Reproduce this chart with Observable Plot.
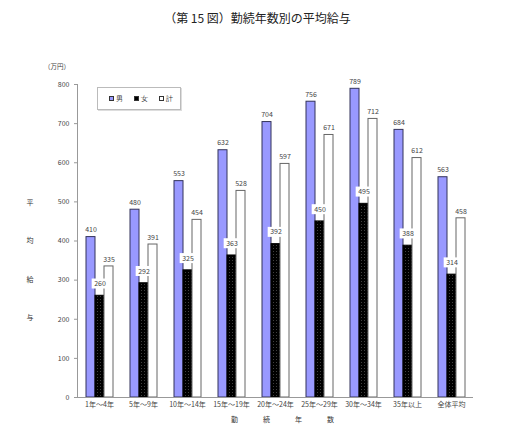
<!DOCTYPE html>
<html><head><meta charset="utf-8">
<script src="https://cdn.jsdelivr.net/npm/d3@7"></script>
<script src="https://cdn.jsdelivr.net/npm/@observablehq/plot@0.6"></script>
<style>
body{margin:0;background:#fff;font-family:"Noto Sans CJK JP",sans-serif;}
#wrap{position:relative;width:515px;height:441px;overflow:hidden;}
#title{position:absolute;top:9px;left:0;width:515px;text-align:center;font-size:12px;color:#222;}
#chart{position:absolute;top:34px;left:0;}
#unit{position:absolute;left:44px;top:61px;font-size:6.5px;color:#444;}
#ylab{position:absolute;left:26px;top:199px;font-size:7px;color:#333;writing-mode:vertical-rl;letter-spacing:31.3px;line-height:8px;}
#xlab{position:absolute;left:231px;top:415px;font-size:7px;color:#333;letter-spacing:25px;line-height:8px;white-space:nowrap;}
#legend{position:absolute;left:97px;top:87px;width:84px;height:23px;border:1px solid #bbb;box-shadow:1px 1px 0 #ddd;background:#fff;box-sizing:border-box;padding-left:11px;display:flex;align-items:center;overflow:hidden;}
#legend > div{font-size:7px !important;color:#333;margin:0 !important;min-height:0 !important;flex-wrap:nowrap !important;}
#legend [class$="-swatch"]{margin-right:11px !important;white-space:nowrap;}
#legend svg{outline:1px solid #333;outline-offset:-1px;margin-right:2px !important;}
</style></head>
<body><div id="wrap">
<div id="title">（第 15 図）勤続年数別の平均給与</div>
<div id="chart"></div>
<div id="unit">（万円）</div>
<div id="ylab">平均給与</div>
<div id="xlab">勤続年数</div>
<div id="legend"></div>
</div>
<script>
const categories = ["1年～4年","5年～9年","10年～14年","15年～19年","20年～24年","25年～29年","30年～34年","35年以上","全体平均"];
const series = ["男","女","計"];
const male   = [410,480,553,632,704,756,789,684,563];
const female = [260,292,325,363,392,450,495,388,314];
const total  = [335,391,454,528,597,671,712,612,458];
const yTicks = [0,100,200,300,400,500,600,700,800];

const rows = [];
categories.forEach((c,i)=>{
  rows.push({cat:c, series:"男", value:male[i]});
  rows.push({cat:c, series:"女", value:female[i]});
  rows.push({cat:c, series:"計", value:total[i]});
});
const mRows = rows.filter(d=>d.series==="男");
const fRows = rows.filter(d=>d.series==="女");
const tRows = rows.filter(d=>d.series==="計");

const chart = Plot.plot({
  width: 515, height: 407,
  marginTop: 50, marginBottom: 44, marginLeft: 74, marginRight: 40,
  style: {fontFamily: '"Noto Sans CJK JP", sans-serif', fontSize: "7px", color: "#444", background: "white"},
  fx: {domain: categories, padding: 0, label: null},
  x: {domain: series, paddingInner: 0, paddingOuter: 0.73, axis: null},
  y: {domain: [0, 800], label: null},
  marks: [
    Plot.axisY({ticks: yTicks, tickSize: 3, tickPadding: 5, label: null, stroke: "#999"}),
    Plot.axisFx({anchor: "bottom", tickSize: 0, tickPadding: 5, label: null}),
    Plot.frame({anchor: "left", facetAnchor: "left", stroke: "#999"}),
    Plot.barY(mRows, {fx: "cat", x: "series", y: "value", fill: "#9999ff", stroke: "#33335a", strokeWidth: 1}),
    Plot.barY(fRows, {fx: "cat", x: "series", y: "value", fill: "url(#dots)", stroke: "#000", strokeWidth: 1}),
    Plot.barY(tRows, {fx: "cat", x: "series", y: "value", fill: "#fff", stroke: "#666", strokeWidth: 1}),
    Plot.ruleY([0], {stroke: "#999"}),
    Plot.text(mRows, {fx: "cat", x: "series", y: "value", text: "value", dy: -7, fill: "#444"}),
    Plot.text(tRows, {fx: "cat", x: "series", y: "value", text: "value", dy: -7, fill: "#444"}),
    Plot.text(fRows, {fx: "cat", x: "series", y: "value", text: "value", dy: -12, fill: "#444", className: "flab"})
  ]
});
const svg = d3.select(chart);
const defs = svg.insert("defs", ":first-child");
const pat = defs.append("pattern").attr("id","dots").attr("width",3).attr("height",3).attr("patternUnits","userSpaceOnUse");
pat.append("rect").attr("width",3).attr("height",3).attr("fill","#000");
pat.append("circle").attr("cx",1.5).attr("cy",1.5).attr("r",0.5).attr("fill","#555");
document.getElementById("chart").appendChild(chart);

// white boxes behind the female labels, sized from the rendered text
svg.selectAll(".flab text").each(function(){
  const b = this.getBBox();
  const r = document.createElementNS("http://www.w3.org/2000/svg","rect");
  r.setAttribute("x", b.x - 2.5);
  r.setAttribute("y", b.y + 0.5);
  r.setAttribute("width", b.width + 5);
  r.setAttribute("height", b.height);
  r.setAttribute("fill", "#fff");
  const t = this.getAttribute("transform");
  if (t) r.setAttribute("transform", t);
  this.parentNode.insertBefore(r, this);
});

const leg = Plot.legend({color: {type: "ordinal", domain: series, range: ["#9999ff", "#000", "#fff"]}, legend: "swatches", swatchSize: 5});
document.getElementById("legend").appendChild(leg);
</script>
</body></html>
